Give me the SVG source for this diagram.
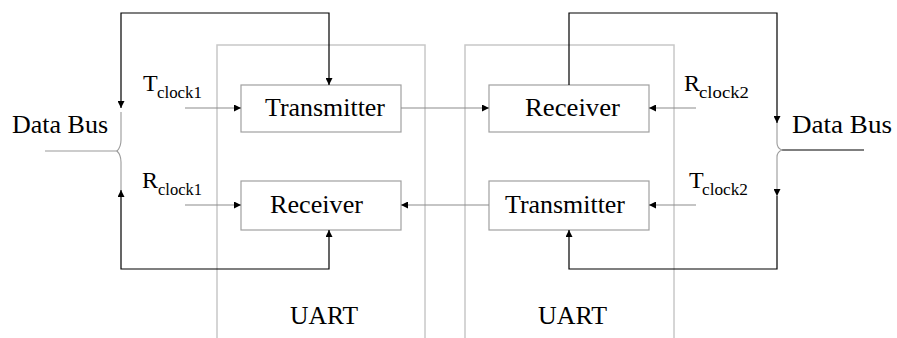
<svg xmlns="http://www.w3.org/2000/svg" width="897" height="338" viewBox="0 0 897 338">
<defs>
<marker id="ah" viewBox="0 0 10 10" refX="10" refY="5" markerWidth="8" markerHeight="7" markerUnits="userSpaceOnUse" orient="auto-start-reverse">
<path d="M0,0 L10,5 L0,10 Z" fill="#000"/>
</marker>
</defs>
<style>
text{font-family:"Liberation Serif","Times New Roman",serif;fill:#000}
.lbl{font-size:25.5px}
.big{font-size:24px}
.sub{font-size:16.5px}
.uart{fill:none;stroke:#c8c8c8;stroke-width:1.5}
.blk{fill:#fff;stroke:#a0a0a0;stroke-width:1.2}
.g{fill:none;stroke:#8c8c8c;stroke-width:1.2}
.k{fill:none;stroke:#000;stroke-width:1.2}
.br{fill:none;stroke:#9a9a9a;stroke-width:1.1}
</style>
<rect width="897" height="338" fill="#fff"/>
<g id="uart1">
<rect class="uart" x="217" y="45" width="208" height="310"/>
<text class="lbl" x="290" y="324" textLength="68" lengthAdjust="spacingAndGlyphs">UART</text>
</g>
<g id="uart2">
<rect class="uart" x="465" y="45" width="209" height="310"/>
<text class="lbl" x="538" y="324" textLength="69" lengthAdjust="spacingAndGlyphs">UART</text>
</g>
<g id="tx1">
<rect class="blk" x="241" y="85" width="160" height="47"/>
<text class="lbl" x="265" y="116" textLength="120" lengthAdjust="spacingAndGlyphs">Transmitter</text>
</g>
<g id="rx1">
<rect class="blk" x="241" y="181" width="160" height="49"/>
<text class="lbl" x="270" y="213" textLength="93" lengthAdjust="spacingAndGlyphs">Receiver</text>
</g>
<g id="rx2">
<rect class="blk" x="489" y="85" width="160" height="47"/>
<text class="lbl" x="525" y="116" textLength="95" lengthAdjust="spacingAndGlyphs">Receiver</text>
</g>
<g id="tx2">
<rect class="blk" x="489" y="181" width="160" height="49"/>
<text class="lbl" x="505" y="213" textLength="120" lengthAdjust="spacingAndGlyphs">Transmitter</text>
</g>
<g id="bus-left">
<text class="lbl" x="12" y="133" textLength="96" lengthAdjust="spacingAndGlyphs">Data Bus</text>
<path class="br" d="M121,112 L121,140 Q121,147 117,151 Q121,155 121,162 L121,190"/>
<path class="br" d="M45,151 L117,151"/>
</g>
<g id="bus-right">
<text class="lbl" x="792" y="133" textLength="100" lengthAdjust="spacingAndGlyphs">Data Bus</text>
<path class="br" d="M782,150 L864,150" style="stroke:#000"/>
</g>
<g id="clock-labels">
<text class="big" x="143" y="91">T</text>
<text class="sub" x="157" y="98" textLength="45" lengthAdjust="spacingAndGlyphs">clock1</text>
<text class="big" x="142" y="188">R</text>
<text class="sub" x="158" y="195" textLength="44" lengthAdjust="spacingAndGlyphs">clock1</text>
<text class="big" x="684" y="91">R</text>
<text class="sub" x="699" y="98" textLength="50" lengthAdjust="spacingAndGlyphs">clock2</text>
<text class="big" x="689" y="188">T</text>
<text class="sub" x="702" y="195" textLength="46" lengthAdjust="spacingAndGlyphs">clock2</text>
</g>
<g id="connectors">
<path class="g" d="M185,108 L241,108" marker-end="url(#ah)"/>
<path class="g" d="M185,205 L241,205" marker-end="url(#ah)"/>
<path class="g" d="M696,108 L649,108" marker-end="url(#ah)"/>
<path class="g" d="M696,205 L649,205" marker-end="url(#ah)"/>
<path class="g" d="M401,108 L489,108" marker-end="url(#ah)"/>
<path class="g" d="M489,205 L401,205" marker-end="url(#ah)"/>
<path class="k" d="M121,108 L121,13 L329,13 L329,85" marker-start="url(#ah)" marker-end="url(#ah)"/>
<path class="k" d="M329,230 L329,269 L121,269 L121,190" marker-start="url(#ah)" marker-end="url(#ah)"/>
<path class="k" d="M569,85 L569,13 L777,13 L777,123" marker-end="url(#ah)"/>
<path class="br" d="M777,123 L777,143 Q777,148 782,150 Q777,152 777,157 L777,196" marker-end="url(#ah)"/>
<path class="k" d="M777,196 L777,269 L569,269 L569,230" marker-end="url(#ah)"/>
</g>
</svg>
